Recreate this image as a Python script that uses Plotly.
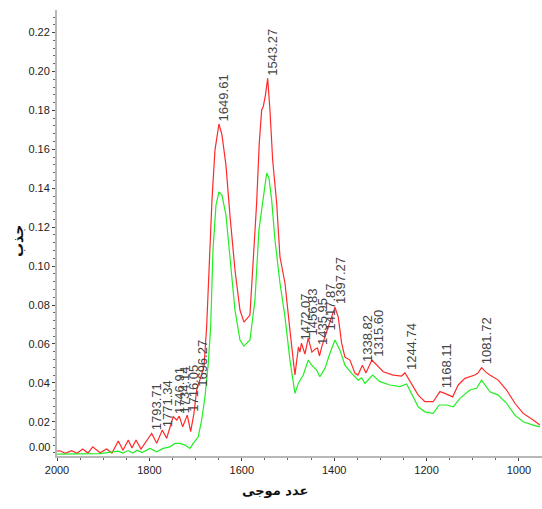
import plotly.graph_objects as go

# Wavenumber (cm-1) and absorbance
red_x = [2000, 1993.5, 1982.7, 1968.2, 1956.7, 1944.4, 1932.9, 1922.7, 1906.9, 1892.4, 1881.0,
         1867.3, 1857.1, 1845.7, 1837.7, 1829.0, 1818.2, 1795.0, 1784.2, 1772.1, 1762.6,
         1748.3, 1740.9, 1735.3, 1727.9, 1718.0, 1710.6, 1703.5, 1697.6, 1690.5, 1681.8,
         1676.0, 1671.6, 1664.5, 1658.0, 1649.4, 1642.9, 1634.2, 1625.6, 1614.7, 1603.9,
         1595.2, 1582.3, 1567.8, 1562.1, 1556.9, 1553.5, 1548.7, 1543.9, 1539.0, 1533.1,
         1524.5, 1517.3, 1506.5, 1495.7, 1484.9, 1477.3, 1474.0, 1470.8, 1463.2, 1456.1,
         1448.1, 1441.6, 1436.0, 1431.8, 1426.4, 1417.1, 1409.1, 1398.3, 1391.1, 1383.8,
         1376.6, 1365.8, 1355.0, 1348.5, 1338.8, 1331.2, 1318.2, 1308.0, 1293.7, 1272.1,
         1253.9, 1246.8, 1232.2, 1218.0, 1203.5, 1185.5, 1171.0, 1160.2, 1143.5, 1131.4,
         1116.9, 1095.3, 1088.8, 1080.8, 1071.5, 1062.8, 1044.8, 1026.7, 1008.7, 990.7,
         969.1, 954.6]
red_y = [0.0049, 0.0051, 0.0038, 0.0051, 0.0038, 0.0060, 0.0039, 0.0071, 0.0041, 0.0060, 0.0039,
         0.0101, 0.0054, 0.0106, 0.0065, 0.0106, 0.0060, 0.0140, 0.0089, 0.0157, 0.0115,
         0.0226, 0.0209, 0.0229, 0.0174, 0.0234, 0.0149, 0.0243, 0.0363, 0.0414, 0.0483,
         0.0688, 0.0928, 0.1339, 0.1596, 0.1730, 0.1674, 0.1519, 0.1262, 0.0980, 0.0774,
         0.0712, 0.0748, 0.1324, 0.1632, 0.1802, 0.1819, 0.1879, 0.1965, 0.1802, 0.1545,
         0.1324, 0.1048, 0.0913, 0.0671, 0.0440, 0.0584, 0.0558, 0.0604, 0.0548, 0.0630,
         0.0558, 0.0573, 0.0579, 0.0538, 0.0589, 0.0656, 0.0712, 0.0789, 0.0738, 0.0604,
         0.0532, 0.0517, 0.0450, 0.0440, 0.0491, 0.0450, 0.0517, 0.0491, 0.0457, 0.0440,
         0.0435, 0.0452, 0.0397, 0.0337, 0.0303, 0.0303, 0.0355, 0.0346, 0.0328, 0.0389,
         0.0423, 0.0440, 0.0450, 0.0478, 0.0455, 0.0440, 0.0414, 0.0363, 0.0295, 0.0243,
         0.0209, 0.0183]

green_x = [2000, 1950.2, 1906.9, 1868.0, 1857.1, 1846.3, 1835.5, 1826.8, 1816.0, 1798.7, 1784.2,
           1769.9, 1755.4, 1744.6, 1733.8, 1723.0, 1712.1, 1705.0, 1694.2, 1686.8, 1679.7,
           1672.5, 1667.3, 1662.3, 1655.8, 1649.4, 1642.9, 1634.2, 1625.6, 1614.7, 1603.9,
           1595.2, 1582.3, 1571.4, 1562.8, 1556.3, 1550.9, 1546.1, 1541.1, 1535.3, 1528.1,
           1517.3, 1506.5, 1495.7, 1484.9, 1477.7, 1466.9, 1456.1, 1448.8, 1438.0, 1430.8,
           1420.0, 1409.1, 1398.3, 1387.5, 1376.6, 1362.1, 1347.8, 1340.5, 1333.3, 1316.7,
           1300.9, 1279.2, 1257.6, 1243.1, 1232.2, 1218.0, 1203.5, 1185.5, 1172.5, 1156.5,
           1142.2, 1127.7, 1106.1, 1091.6, 1080.8, 1062.8, 1044.8, 1026.7, 1008.7, 990.7,
           969.1, 954.6]
green_y = [0.0034, 0.0034, 0.0036, 0.0049, 0.0039, 0.0052, 0.0039, 0.0054, 0.0042, 0.0063, 0.0046,
           0.0063, 0.0071, 0.0089, 0.0089, 0.0080, 0.0063, 0.0089, 0.0123, 0.0209, 0.0328,
           0.0500, 0.0688, 0.1083, 0.1314, 0.1381, 0.1365, 0.1262, 0.1031, 0.0774, 0.0620,
           0.0589, 0.0620, 0.0826, 0.1186, 0.1309, 0.1417, 0.1478, 0.1453, 0.1340, 0.1134,
           0.0913, 0.0740, 0.0517, 0.0346, 0.0397, 0.0440, 0.0517, 0.0491, 0.0466, 0.0431,
           0.0474, 0.0552, 0.0620, 0.0568, 0.0491, 0.0449, 0.0414, 0.0426, 0.0397, 0.0440,
           0.0406, 0.0389, 0.0381, 0.0394, 0.0346, 0.0277, 0.0251, 0.0243, 0.0286, 0.0286,
           0.0277, 0.0320, 0.0363, 0.0372, 0.0414, 0.0354, 0.0337, 0.0295, 0.0234, 0.0200,
           0.0183, 0.0174]

peak_labels = ["1793.71", "1771.34", "1746.91", "1734.14", "1716.05", "1696.27", "1649.61",
               "1543.27", "1472.07", "1456.83", "1435.95", "1417.87", "1397.27", "1338.82",
               "1315.60", "1244.74", "1168.11", "1081.72"]
peak_y = [0.0140, 0.0157, 0.0226, 0.0229, 0.0234, 0.0363, 0.1730,
          0.1965, 0.0604, 0.0630, 0.0579, 0.0656, 0.0789, 0.0491,
          0.0517, 0.0452, 0.0355, 0.0478]

y_ticks = [0.02, 0.04, 0.06, 0.08, 0.10, 0.12, 0.14, 0.16, 0.18, 0.20, 0.22]
x_ticks = [2000, 1800, 1600, 1400, 1200, 1000]

tick_font = dict(family="Liberation Sans Narrow, Arial Narrow, Liberation Sans", size=11, color="#222222")

fig = go.Figure()
fig.add_trace(go.Scatter(x=red_x, y=red_y, mode="lines",
                         line=dict(color="#ff2a2a", width=1.2), showlegend=False))
fig.add_trace(go.Scatter(x=green_x, y=green_y, mode="lines",
                         line=dict(color="#22ee22", width=1.2), showlegend=False))

for lab, py in zip(peak_labels, peak_y):
    fig.add_annotation(x=float(lab), y=py, text=lab, textangle=-90, showarrow=False,
                       xanchor="center", yanchor="bottom", xshift=5, yshift=1,
                       font=dict(family="Liberation Sans, Arial", size=13, color="#444444"))

# bottom y label
fig.add_annotation(x=0, xref="paper", y=0, yref="paper", text="0.00", showarrow=False,
                   xanchor="right", yanchor="middle", xshift=-5, yshift=9, font=tick_font)

# axis titles
fig.add_annotation(x=0.5, xref="paper", y=0, yref="paper", text="<b>عدد موجی</b>", showarrow=False,
                   xanchor="center", yanchor="middle", yshift=-34, xshift=-25,
                   font=dict(family="DejaVu Sans", size=13, color="#111111"))
fig.add_annotation(x=0, xref="paper", y=0.5, yref="paper", text="<b>جذب</b>", showarrow=False,
                   textangle=-90, xanchor="center", yanchor="middle", xshift=-39, yshift=-8,
                   font=dict(family="DejaVu Sans", size=14, color="#111111"))

fig.update_layout(
    width=542, height=509,
    margin=dict(l=57, r=0, t=10, b=53),
    paper_bgcolor="white", plot_bgcolor="white",
    font=tick_font,
    xaxis=dict(range=[2000, 950], tickvals=x_ticks, ticktext=[str(v) for v in x_ticks],
               automargin=False,
               showgrid=False, zeroline=False, showline=True, linecolor="#b8b8b8", linewidth=2,
               ticks="outside", ticklen=3, tickcolor="#444444",
               minor=dict(dtick=50, ticks="outside", ticklen=2, tickcolor="#666666")),
    yaxis=dict(range=[0.0024, 0.2316], tickvals=y_ticks, ticktext=["%.2f" % v for v in y_ticks],
               automargin=False,
               showgrid=False, zeroline=False, showline=True, linecolor="#b8b8b8", linewidth=2,
               ticks="outside", ticklen=3, tickcolor="#444444",
               minor=dict(dtick=0.004, ticks="outside", ticklen=2, tickcolor="#666666")),
)

fig.write_html("out.html", config={"displayModeBar": False},
               post_script="document.body.style.margin='0';document.body.style.overflow='hidden';")
